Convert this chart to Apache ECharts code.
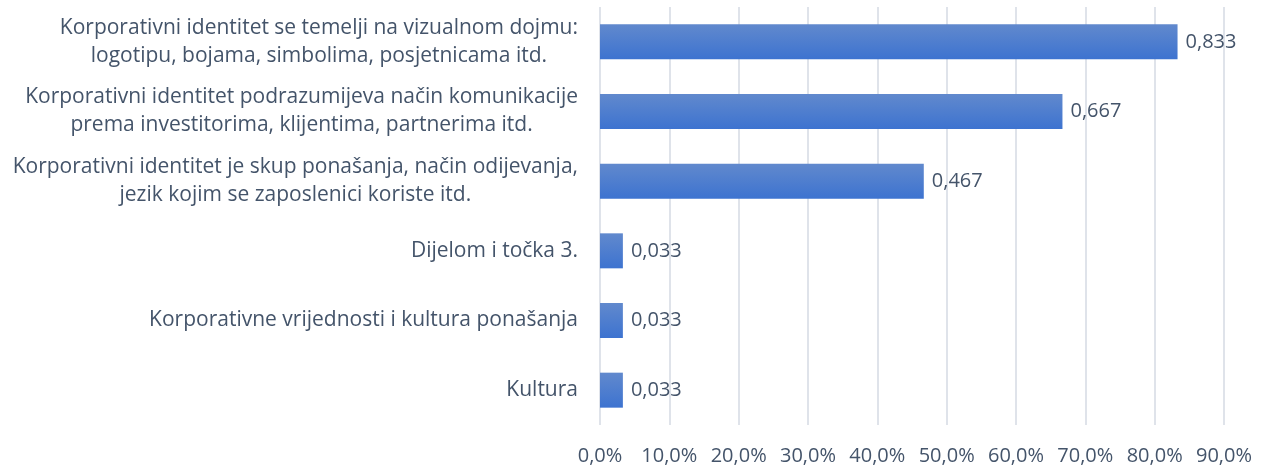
<!DOCTYPE html>
<html>
<head>
<meta charset="utf-8">
<script src="https://cdn.jsdelivr.net/npm/echarts@6/dist/echarts.min.js"></script>
<style>
  html, body { margin: 0; padding: 0; background: #fff; }
  #chart { width: 1266px; height: 467px; }
</style>
</head>
<body>
<div id="chart"></div>
<script>
const categories = [
  'Korporativni identitet se temelji na vizualnom dojmu:\nlogotipu, bojama, simbolima, posjetnicama itd.',
  'Korporativni identitet podrazumijeva način komunikacije\nprema investitorima, klijentima, partnerima itd.',
  'Korporativni identitet je skup ponašanja, način odijevanja,\njezik kojim se zaposlenici koriste itd.',
  'Dijelom i točka 3.',
  'Korporativne vrijednosti i kultura ponašanja',
  'Kultura'
]
const shares = [0.833, 0.667, 0.467, 0.033, 0.033, 0.033]

const textColor = '#44546a'
const fontFamily = '"Open Sans", "Liberation Sans", sans-serif'

const chart = echarts.init(document.getElementById('chart'))

chart.setOption({
  animation: false,
  grid: { left: 600, right: 42, top: 7, bottom: 42 },
  xAxis: {
    type: 'value',
    min: 0,
    max: 0.9,
    interval: 0.1,
    axisLine: { show: false },
    axisTick: { show: false },
    splitLine: { lineStyle: { color: '#dfe3ea', width: 2 } },
    axisLabel: {
      margin: 21,
      fontSize: 20,
      fontFamily,
      color: textColor,
      formatter: (v) => (v * 100).toFixed(1).replace('.', ',') + '%'
    }
  },
  yAxis: {
    type: 'category',
    data: categories,
    inverse: true,
    axisLine: { show: false },
    axisTick: { show: false },
    axisLabel: {
      margin: 22,
      fontSize: 21,
      fontFamily,
      color: textColor,
      lineHeight: 28,
      formatter: (v) => v.split('\n').map(s => `{c|${s}}`).join('\n'),
      rich: {
        c: { align: 'center', fontSize: 21, fontFamily, color: textColor, lineHeight: 28 }
      }
    }
  },
  series: [
    {
      type: 'bar',
      data: shares,
      barWidth: 35,
      itemStyle: {
        color: new echarts.graphic.LinearGradient(0, 0, 0, 1, [
          { offset: 0, color: '#6189cd' },
          { offset: 1, color: '#3d73d0' }
        ])
      },
      label: {
        show: true,
        position: 'right',
        distance: 8,
        fontSize: 20,
        fontFamily,
        color: textColor,
        formatter: (p) => p.value.toFixed(3).replace('.', ',')
      }
    }
  ]
})
</script>
</body>
</html>
